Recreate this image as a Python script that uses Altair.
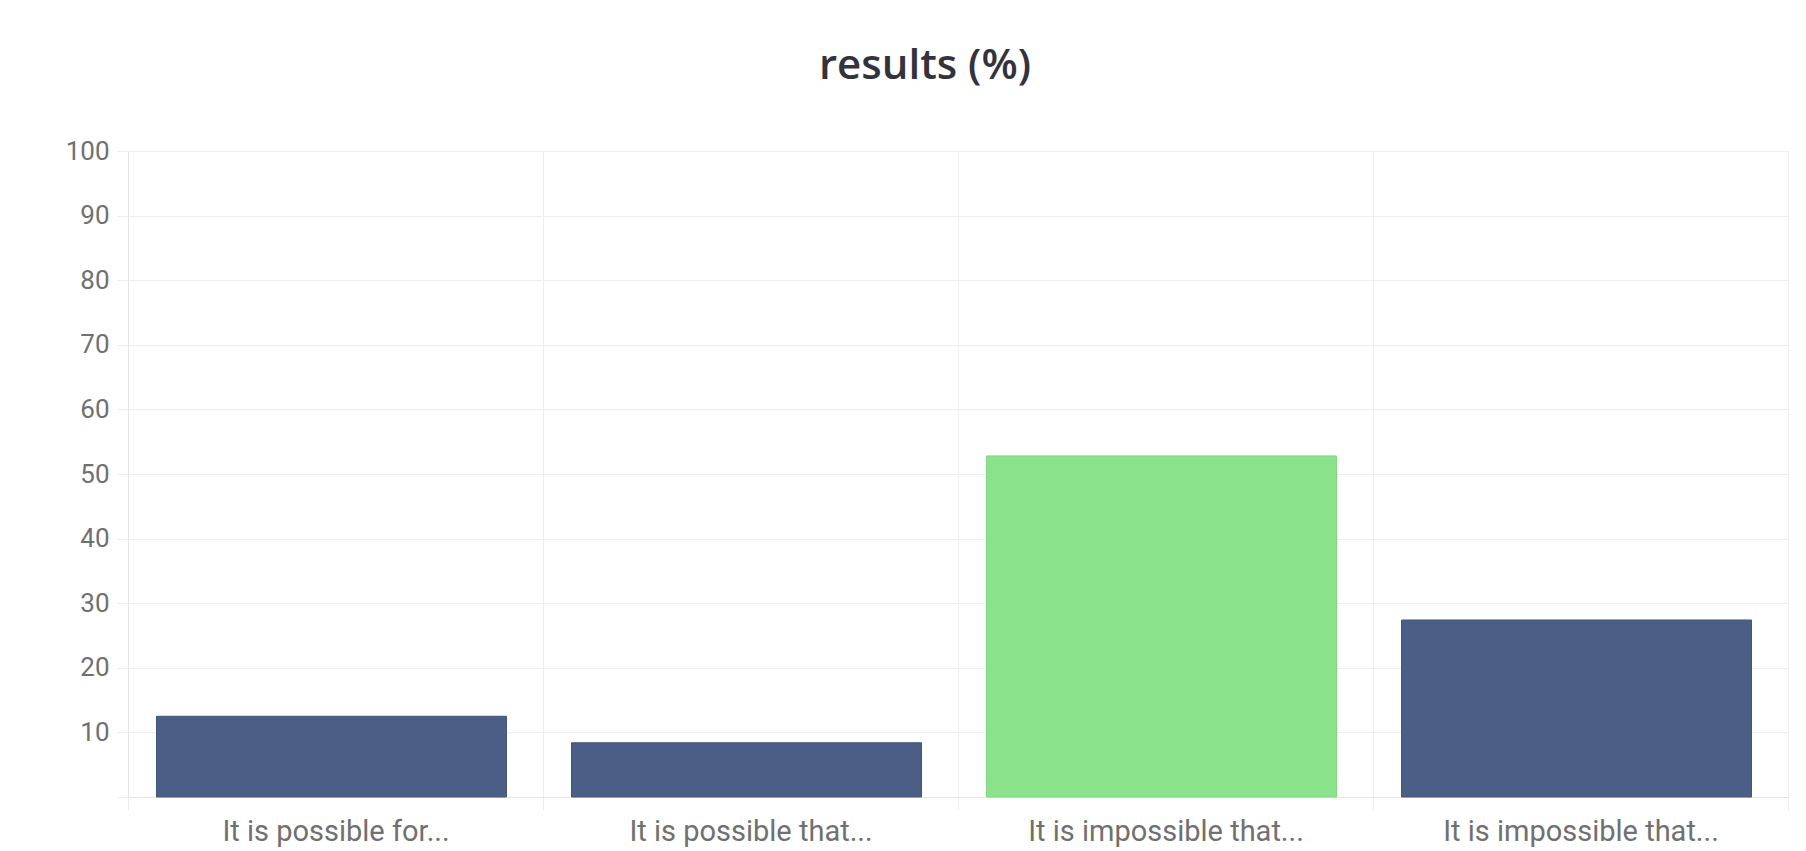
import altair as alt
import pandas as pd

# Answer options (labels repeat, so bars are keyed by position)
labels = [
    "It is possible for...",
    "It is possible that...",
    "It is impossible that...",
    "It is impossible that...",
]
shares = [12.5, 8.4, 52.8, 27.4]
fills = ["#4b5e86", "#4b5e86", "#8ae28b", "#4b5e86"]
edges = ["#44567c", "#44567c", "#82d984", "#44567c"]
y_ticks = [0, 10, 20, 30, 40, 50, 60, 70, 80, 90, 100]

df = pd.DataFrame({
    "idx": list(range(len(labels))),
    "label": labels,
    "share": shares,
    "fill": fills,
    "edge": edges,
})

label_lookup = "[" + ", ".join("'" + s + "'" for s in labels) + "][datum.value]"

GRID = "#eeeeee"
TEXT = "#707070"
LABEL_FONT = "Roboto"

bars = alt.Chart(df).mark_bar(size=350, strokeWidth=1, xOffset=-4).encode(
    x=alt.X(
        "idx:O",
        title=None,
        scale=alt.Scale(paddingInner=0, paddingOuter=0),
        axis=alt.Axis(
            labelExpr=label_lookup,
            labelAngle=0,
            labelFont=LABEL_FONT,
            labelFontSize=29,
            labelColor=TEXT,
            labelPadding=7,
            labelLimit=500,
            tickBand="extent",
            ticks=True,
            tickSize=13,
            tickColor=GRID,
            grid=True,
            gridColor=GRID,
            domainColor="#e4e4e4",
        ),
    ),
    y=alt.Y(
        "share:Q",
        title=None,
        scale=alt.Scale(domain=[0, 100], nice=False),
        axis=alt.Axis(
            values=y_ticks,
            labelExpr="datum.value == 0 ? '' : datum.label",
            labelFont=LABEL_FONT,
            labelFontSize=26,
            labelColor=TEXT,
            labelPadding=8,
            ticks=True,
            tickSize=11,
            tickColor=GRID,
            grid=True,
            gridColor=GRID,
            domainColor="#e4e4e4",
        ),
    ),
    color=alt.Color("fill:N", scale=None, legend=None),
    stroke=alt.Stroke("edge:N", scale=None, legend=None),
)

chart = bars.properties(
    width=1660,
    height=646,
    autosize=alt.AutoSizeParams(type="none"),
    padding={"left": 128, "top": 151, "right": 18, "bottom": 54},
    title=alt.Title(
        "results (%)",
        font="Open Sans",
        fontSize=42,
        fontWeight=600,
        color="#33333d",
        anchor="middle",
        dx=-33,
        offset=17,
        baseline="alphabetic",
    ),
).configure_view(stroke=None).configure(background="white")

chart.save("out.html", embed_options={"renderer": "svg", "actions": False})
